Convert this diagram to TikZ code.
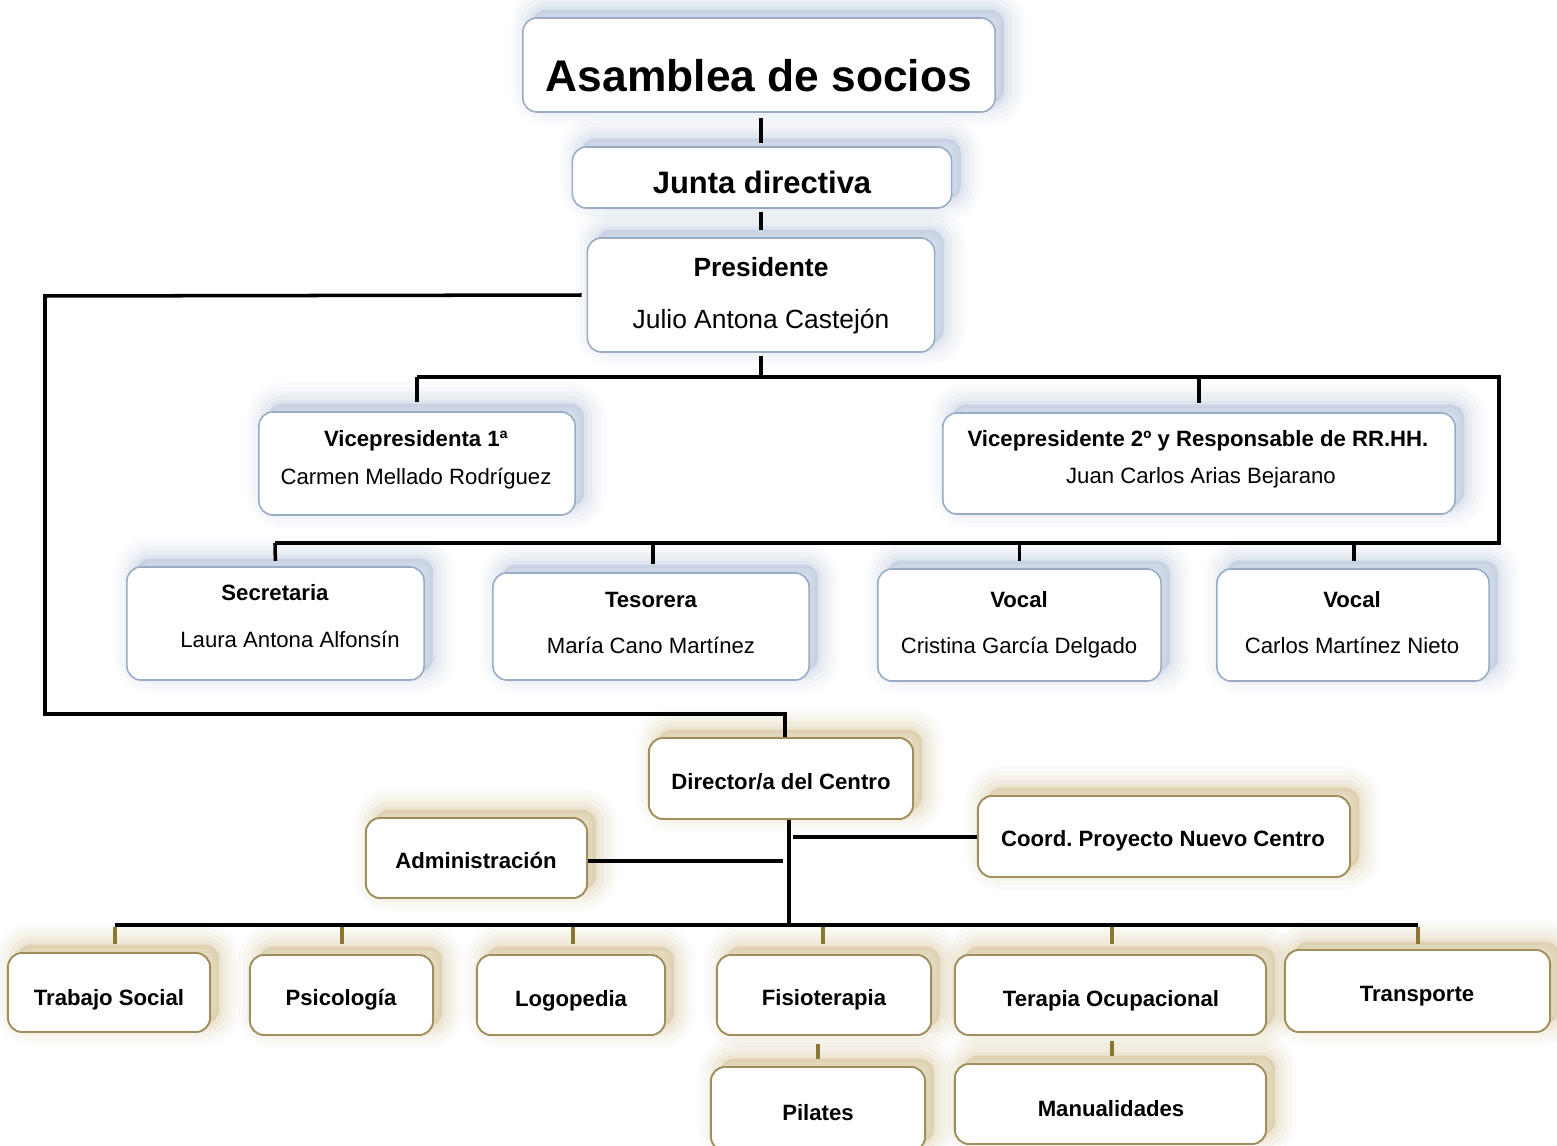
\documentclass[tikz,border=0pt]{standalone}
\usepackage{fontspec}
\setmainfont{Liberation Sans}
\usetikzlibrary{shadows}
\definecolor{topedge}{HTML}{9AABC6}
\definecolor{topshade}{HTML}{8AA3C8}
\definecolor{botedge}{HTML}{A08E5C}
\definecolor{botshade}{HTML}{BFA35A}
\definecolor{tickcol}{HTML}{8A7730}
\tikzset{
  softshadow/.style={
    general shadow={fill=#1, draw=#1, line width=12pt, opacity=0.035, shadow xshift=2.6pt, shadow yshift=2.4pt},
    general shadow={fill=#1, draw=#1, line width=9.5pt, opacity=0.045, shadow xshift=2.6pt, shadow yshift=2.4pt},
    general shadow={fill=#1, draw=#1, line width=7pt, opacity=0.055, shadow xshift=2.6pt, shadow yshift=2.4pt},
    general shadow={fill=#1, draw=#1, line width=4.5pt, opacity=0.065, shadow xshift=2.6pt, shadow yshift=2.4pt},
    general shadow={fill=#1, draw=#1, line width=2pt, opacity=0.08, shadow xshift=2.6pt, shadow yshift=2.4pt}},
  topbox/.style={draw=topedge, line width=0.45pt, fill=white, rounded corners=4pt, softshadow=topshade, inner sep=0pt},
  botbox/.style={draw=botedge, line width=0.55pt, fill=white, rounded corners=4pt, softshadow=botshade, inner sep=0pt},
  lbl/.style={anchor=base, inner sep=0pt, text=black},
  fA/.style={font=\fontsize{12.6}{15}\selectfont\bfseries},
  fJ/.style={font=\fontsize{8.8}{11}\selectfont\bfseries},
  fPb/.style={font=\fontsize{7.5}{9}\selectfont\bfseries},
  fPr/.style={font=\fontsize{7.5}{9}\selectfont},
  fb/.style={font=\fontsize{6.3}{8}\selectfont\bfseries},
  fr/.style={font=\fontsize{6.3}{8}\selectfont},
  link/.style={line width=1pt, black},
  tick/.style={line width=1pt, tickcol},
}
\begin{document}
\frenchspacing
\begin{tikzpicture}[x=0.01cm, y=-0.01cm]
\useasboundingbox (0,0) rectangle (1557,1146);
\fill[white] (0,0) rectangle (1557,1146);

% ---------- top (blue) boxes ----------
\node[topbox, minimum width=4.72cm, minimum height=0.94cm] (asam) at (759,65) {};
\node[lbl, fA] (asamT) at (759,92) {Asamblea de socios};

\node[topbox, minimum width=3.79cm, minimum height=0.61cm] (junta) at (762,177.5) {};
\node[lbl, fJ] (juntaT) at (762,194) {Junta directiva};

\node[topbox, minimum width=3.47cm, minimum height=1.14cm] (pres) at (761,295) {};
\node[lbl, fPb] (presT) at (761,277) {Presidente};
\node[lbl, fPr] (presN) at (761,329) {Julio Antona Castejón};

\node[topbox, minimum width=3.16cm, minimum height=1.03cm] (vice1) at (417,463.5) {};
\node[lbl, fb] (vice1T) at (416,447) {Vicepresidenta 1ª};
\node[lbl, fr] (vice1N) at (416,485) {Carmen Mellado Rodríguez};

\node[topbox, minimum width=5.12cm, minimum height=1.01cm] (vice2) at (1199,463.5) {};
\node[lbl, fb] (vice2T) at (1198,447) {Vicepresidente 2º y Responsable de RR.HH.};
\node[lbl, fr] (vice2N) at (1201,484) {Juan Carlos Arias Bejarano};

\node[topbox, minimum width=2.97cm, minimum height=1.13cm] (sec) at (275.5,623.5) {};
\node[lbl, fb] (secT) at (275,601) {Secretaria};
\node[lbl, fr] (secN) at (290,647) {Laura Antona Alfonsín};

\node[topbox, minimum width=3.16cm, minimum height=1.07cm] (tes) at (651,626.5) {};
\node[lbl, fb] (tesT) at (651,608) {Tesorera};
\node[lbl, fr] (tesN) at (651,653) {María Cano Martínez};

\node[topbox, minimum width=2.83cm, minimum height=1.12cm] (voc1) at (1019.5,625) {};
\node[lbl, fb] (voc1T) at (1019,608) {Vocal};
\node[lbl, fr] (voc1N) at (1019,653) {Cristina García Delgado};

\node[topbox, minimum width=2.72cm, minimum height=1.12cm] (voc2) at (1353,625) {};
\node[lbl, fb] (voc2T) at (1352,608) {Vocal};
\node[lbl, fr] (voc2N) at (1352,653) {Carlos Martínez Nieto};

% ---------- bottom (gold) boxes ----------
\node[botbox, minimum width=2.64cm, minimum height=0.81cm] (dir) at (781,778.5) {};
\node[lbl, fb] (dirT) at (781,789) {Director/a del Centro};

\node[botbox, minimum width=2.21cm, minimum height=0.80cm] (adm) at (476.5,858) {};
\node[lbl, fb] (admT) at (476,868) {Administración};

\node[botbox, minimum width=3.72cm, minimum height=0.81cm] (coord) at (1164,836.5) {};
\node[lbl, fb] (coordT) at (1163,846) {Coord. Proyecto Nuevo Centro};

\node[botbox, minimum width=2.02cm, minimum height=0.79cm] (ts) at (109,992.5) {};
\node[lbl, fb] (tsT) at (109,1005) {Trabajo Social};

\node[botbox, minimum width=1.83cm, minimum height=0.80cm] (psi) at (341.5,995) {};
\node[lbl, fb] (psiT) at (341,1005) {Psicología};

\node[botbox, minimum width=1.88cm, minimum height=0.80cm] (logo) at (571,995) {};
\node[lbl, fb] (logoT) at (571,1006) {Logopedia};

\node[botbox, minimum width=2.14cm, minimum height=0.80cm] (fis) at (824,995) {};
\node[lbl, fb] (fisT) at (824,1005) {Fisioterapia};

\node[botbox, minimum width=3.11cm, minimum height=0.80cm] (ter) at (1110.5,995) {};
\node[lbl, fb] (terT) at (1111,1006) {Terapia Ocupacional};

\node[botbox, minimum width=2.65cm, minimum height=0.82cm] (tra) at (1417.5,991) {};
\node[lbl, fb] (traT) at (1417,1001) {Transporte};

\node[botbox, minimum width=2.14cm, minimum height=0.84cm] (pil) at (818,1109) {};
\node[lbl, fb] (pilT) at (818,1120) {Pilates};

\node[botbox, minimum width=3.11cm, minimum height=0.80cm] (man) at (1110.5,1104) {};
\node[lbl, fb] (manT) at (1111,1116) {Manualidades};

% ---------- connectors (top) ----------
\coordinate (busP) at (761,377);
\coordinate (rc1) at (1499,377);
\coordinate (rc2) at (1499,543);
\coordinate (busL) at (275,543);
\coordinate (tkTes) at (653,543);
\coordinate (tkVoc2) at (1354,543);
\draw[link, shorten <=1.5pt, shorten >=1pt] (asam.south -| busP) -- (junta.north -| busP);
\draw[link, shorten <=1pt, shorten >=2pt] (junta.south -| busP) -- (pres.north -| busP);
\draw[link, shorten <=1pt] (pres.south -| busP) -- (busP);
\draw[link] (vice1.north |- busP) -- (rc1) -- (rc2) -- (busL);
\draw[link, shorten >=2.5pt] (vice1.north |- busP) -- (vice1.north);
\draw[link, shorten >=2.5pt] (vice2.north |- busP) -- (vice2.north);
\draw[link, shorten >=1.5pt] (busL) -- (sec.north);
\draw[link, shorten >=2.2pt] (tkTes) -- (tkTes |- tes.north);
\draw[link, shorten >=2pt] (voc1.north |- busL) -- (voc1.north);
\draw[link, shorten >=2pt] (tkVoc2) -- (tkVoc2 |- voc2.north);

% ---------- left loop to director ----------
\coordinate (lp1) at (45,296);
\coordinate (lp2) at (45,714);
\coordinate (lp3) at (785,714);
\draw[link, shorten <=1.4pt] (pres.west) -- (lp1) -- (lp2) -- (lp3) -- (lp3 |- dir.north);

% ---------- connectors (bottom) ----------
\coordinate (dbus) at (789,925);
\coordinate (dbL) at (115,925);
\coordinate (dbR) at (1418,925);
\coordinate (tkPsi) at (342,925);
\coordinate (tkLogo) at (573,925);
\coordinate (tkFis) at (823,925);
\coordinate (tkTer) at (1112,925);
\coordinate (admEnd) at (783,861);
\coordinate (coordEnd) at (793,837);
\draw[link] (dbus |- dir.south) -- (dbus);
\draw[link] (dbL) -- (dbR);
\draw[link] (adm.east |- admEnd) -- (admEnd);
\draw[link] (coordEnd) -- (coord.west |- coordEnd);
\draw[tick, shorten <=0.5pt, shorten >=2.3pt] (dbL) -- (dbL |- ts.north);
\draw[tick, shorten <=0.5pt, shorten >=2.9pt] (tkPsi) -- (tkPsi |- psi.north);
\draw[tick, shorten <=0.5pt, shorten >=2.9pt] (tkLogo) -- (tkLogo |- logo.north);
\draw[tick, shorten <=0.5pt, shorten >=2.9pt] (tkFis) -- (tkFis |- fis.north);
\draw[tick, shorten <=0.5pt, shorten >=2.9pt] (tkTer) -- (tkTer |- ter.north);
\draw[tick, shorten <=0.5pt, shorten >=1.5pt] (dbR) -- (dbR |- tra.north);
\draw[tick, shorten <=2.3pt, shorten >=2pt] (pil.north |- fis.south) -- (pil.north);
\draw[tick, shorten <=1.5pt, shorten >=2pt] (tkTer |- ter.south) -- (tkTer |- man.north);
\end{tikzpicture}
\end{document}
